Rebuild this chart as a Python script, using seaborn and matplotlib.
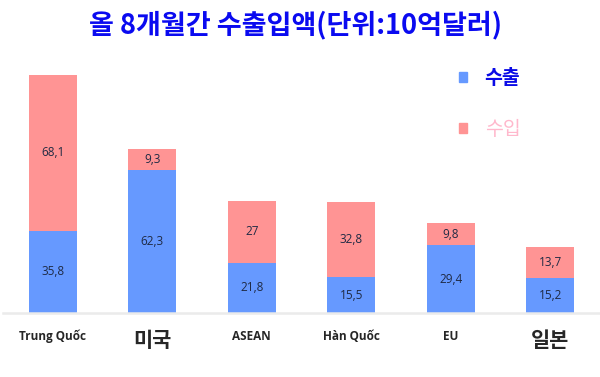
import pandas as pd
import matplotlib.pyplot as plt
import seaborn as sns
from matplotlib.patches import Patch

# 올 8개월간 수출입액 (단위: 10억달러)
partners = ['Trung Quốc', '미국', 'ASEAN', 'Hàn Quốc', 'EU', '일본']
exports = [35.8, 62.3, 21.8, 15.5, 29.4, 15.2]
imports = [68.1, 9.3, 27, 32.8, 9.8, 13.7]

df = pd.DataFrame({'partner': partners, 'export': exports, 'import': imports})

sns.set_style('white')
plt.rcParams['font.family'] = ['Noto Sans CJK KR', 'DejaVu Sans']

blue = '#6699FF'
pink = '#FF9494'

fig = plt.figure(figsize=(6, 3.77), dpi=100)
ax = fig.add_axes([0.005, 0.17, 0.995, 0.73])

sns.barplot(data=df, x='partner', y='export', color=blue, width=0.48,
            saturation=1, ax=ax, order=partners, linewidth=0)
sns.barplot(data=df, x='partner', y='import', bottom=df['export'], color=pink,
            width=0.48, saturation=1, ax=ax, order=partners, linewidth=0)

# value labels in the middle of each segment
for i, (e, m) in enumerate(zip(exports, imports)):
    for val, mid in [(e, e / 2), (m, e + m / 2)]:
        txt = f'{val:g}'.replace('.', ',')
        ax.text(i, mid, txt, ha='center', va='center', fontsize=8.5,
                color='#1F2A44', family=['Open Sans', 'DejaVu Sans'])

ax.set_xlim(-0.5, 5.5)
ax.set_ylim(0, 120)
ax.set_xlabel('')
ax.set_ylabel('')
ax.set_yticks([])
ax.tick_params(axis='x', length=0, pad=10)
ax.set_xticks(range(len(partners)))
ax.set_xticklabels(partners)
for lbl in ax.get_xticklabels():
    if lbl.get_text() in ('미국', '일본'):
        lbl.set_fontsize(15)
        lbl.set_fontweight('bold')
        lbl.set_family(['Noto Sans CJK KR', 'DejaVu Sans'])
        lbl.set_va('top')
        lbl.set_y(-0.012)
    else:
        lbl.set_fontsize(8.5)
        lbl.set_fontweight('bold')
        lbl.set_family(['Open Sans', 'DejaVu Sans'])
        lbl.set_y(-0.01)

for s in ['top', 'right', 'left']:
    ax.spines[s].set_visible(False)
ax.spines['bottom'].set_color('#EBEBEB')
ax.spines['bottom'].set_linewidth(1.8)

handles = [Patch(color=blue), Patch(color=pink)]
leg = ax.legend(handles, ['수출', '수입'], loc='upper left',
                bbox_to_anchor=(0.735, 0.95), frameon=False,
                handlelength=0.4, handleheight=0.4, handletextpad=0.9,
                labelspacing=1.6, fontsize=14,
                labelcolor=['#0A0AE6', '#FFB8CC'])
leg.get_texts()[0].set_fontweight('bold')

fig.text(0.492, 0.935, '올 8개월간 수출입액(단위:10억달러)', ha='center', va='center',
         fontsize=19.5, fontweight='bold', color='#0A0AF0')

plt.savefig('out.png', dpi=100)
